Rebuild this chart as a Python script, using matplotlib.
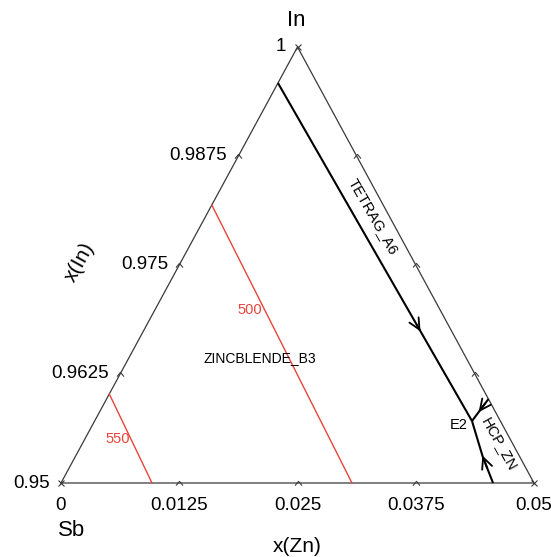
import numpy as np
import matplotlib
matplotlib.use("Agg")
import matplotlib.pyplot as plt
from matplotlib.path import Path

plt.rcParams['font.family'] = ['Liberation Sans', 'DejaVu Sans']

# Composition window: x(In) from 0.95 to 1, x(Zn) from 0 to 0.05
IN_MIN = 0.95
SPAN = 0.05

zn_ticks = [0, 0.0125, 0.025, 0.0375, 0.05]
zn_tick_labels = ["0", "0.0125", "0.025", "0.0375", "0.05"]
in_ticks = [0.95, 0.9625, 0.975, 0.9875, 1.0]
in_tick_labels = ["0.95", "0.9625", "0.975", "0.9875", "1"]

# Univariant line TETRAG_A6 / ZINCBLENDE_B3 down to the eutectic E2
tetrag_zn = [0.0, 0.03989]
tetrag_in = [0.99587, 0.95711]
# E2 towards the In-Zn binary edge
e2_low_zn = [0.03989, 0.04307, 0.04567]
e2_low_in = [0.95711, 0.95302, 0.95]
# HCP_ZN boundary from the In-Zn edge into E2
hcp_zn = [0.04037, 0.03989]
hcp_in = [0.95963, 0.95711]

# Liquidus isotherms (°C)
iso500_zn = [0.0, 0.03076]
iso500_in = [0.98188, 0.95]
iso550_zn = [0.0, 0.00962]
iso550_in = [0.96021, 0.95]

RED = '#e8453c'
EDGE = '#3a3a3a'

W, H = 551, 557
fig = plt.figure(figsize=(W / 100, H / 100), dpi=100)
ax = fig.add_axes([61 / W, (H - 483) / H, 473 / W, 436 / H])
ax.set_xlim(0, SPAN)
ax.set_ylim(0, SPAN)
ax.axis('off')


def tern(zn, xin):
    zn = np.asarray(zn, dtype=float)
    xin = np.asarray(xin, dtype=float)
    return zn + (xin - IN_MIN) / 2, xin - IN_MIN


def px(x, y):
    return x / W, 1 - y / H


# Triangle frame
fx, fy = tern([0, 0.05, 0, 0], [0.95, 0.95, 1.0, 0.95])
ax.plot(fx, fy, color=EDGE, lw=0.9, clip_on=False, solid_joinstyle='miter')

# Tick marks
caret = Path([(-1, -0.6), (0, 0.6), (1, -0.6)], [Path.MOVETO, Path.LINETO, Path.LINETO])
for z in zn_ticks[1:-1]:
    x, y = tern(z, IN_MIN)
    ax.plot(x, y, marker=caret, ms=5, mew=0.8, mec=EDGE, mfc='none', clip_on=False)
for z, lab in zip(zn_ticks, zn_tick_labels):
    ax.annotate(lab, tern(z, IN_MIN), xytext=(0, -16),
                textcoords='offset points', ha='center', va='center', fontsize=13.5)

for v, lab in zip(in_ticks, in_tick_labels):
    x, y = tern(0, v)
    if IN_MIN < v < 1.0:
        ax.plot(x, y, marker=caret, ms=5, mew=0.8, mec=EDGE, mfc='none', clip_on=False)
        rx, ry = tern(1 - v, v)
        ax.plot(rx, ry, marker=caret, ms=5, mew=0.8, mec=EDGE, mfc='none', clip_on=False)
    ax.annotate(lab, (x, y), xytext=(-8, 0), textcoords='offset points',
                ha='right', va='center', fontsize=13.5)

for z, v in [(0, 0.95), (0.05, 0.95), (0, 1.0)]:
    x, y = tern(z, v)
    ax.plot(x, y, marker='x', ms=4, mew=0.8, color=EDGE, clip_on=False)

# Phase boundaries
for zs, ins in [(tetrag_zn, tetrag_in), (e2_low_zn, e2_low_in), (hcp_zn, hcp_in)]:
    x, y = tern(zs, ins)
    ax.plot(x, y, color='black', lw=1.5, clip_on=False, solid_capstyle='butt')

# Isotherms
for zs, ins in [(iso500_zn, iso500_in), (iso550_zn, iso550_in)]:
    x, y = tern(zs, ins)
    ax.plot(x, y, color=RED, lw=1.0, clip_on=False)


def arrow_on(zs, ins, t, dt=0.02):
    x, y = tern(zs, ins)
    seg = np.r_[0, np.cumsum(np.hypot(np.diff(x), np.diff(y)))]
    seg /= seg[-1]
    hx, hy = np.interp(t, seg, x), np.interp(t, seg, y)
    sx, sy = np.interp(t - dt, seg, x), np.interp(t - dt, seg, y)
    ax.annotate('', xy=(hx, hy), xytext=(sx, sy),
                arrowprops=dict(arrowstyle='->,head_length=0.8,head_width=0.38',
                                color='black', lw=1.3, shrinkA=0, shrinkB=0))


arrow_on(tetrag_zn, tetrag_in, 0.735)
arrow_on(hcp_zn, hcp_in, 0.6, dt=0.4)
arrow_on(e2_low_zn[::-1], e2_low_in[::-1], 0.45, dt=0.2)

# Region and line labels
fig.text(*px(260, 358), "ZINCBLENDE_B3", fontsize=10, ha='center', va='center')
fig.text(*px(373, 217), "TETRAG_A6", fontsize=10.5, ha='center', va='center', rotation=-60)
fig.text(*px(499, 444), "HCP_ZN", fontsize=10.5, ha='center', va='center', rotation=-61)
fig.text(*px(459, 425), "E2", fontsize=10.5, ha='center', va='center')
fig.text(*px(250, 310), "500", fontsize=10.5, ha='center', va='center', color=RED)
fig.text(*px(118, 439), "550", fontsize=10.5, ha='center', va='center', color=RED)

# Axis titles and corner components
fig.text(*px(296, 20), "In", fontsize=16, ha='center', va='center')
fig.text(*px(72, 531), "Sb", fontsize=16, ha='center', va='center')
fig.text(*px(297, 546), "x(Zn)", fontsize=15, ha='center', va='center')
fig.text(*px(80, 262), "x(In)", fontsize=15, ha='center', va='center', rotation=61)

fig.savefig("out.png", dpi=100, facecolor='white')
